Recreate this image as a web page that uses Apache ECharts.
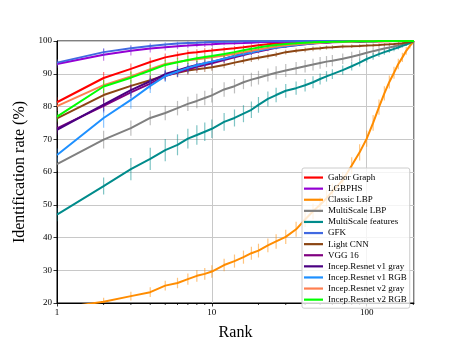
<!DOCTYPE html>
<html><head><meta charset="utf-8">
<script src="https://cdn.jsdelivr.net/npm/echarts@6/dist/echarts.min.js"></script>
<style>html,body{margin:0;padding:0;background:#fff}#c{width:461px;height:346px}</style>
</head><body><div id="c"></div>
<script>
const ranks = [1,2,3,4,5,6,7,8,9,10,12,14,16,18,20,23,26,30,35,40,45,50,55,60,70,80,90,100,110,120,130,140,150,160,170,180,190,202];
const xTickLabels = [1,10,100];
const minorTicks = [2,3,4,5,6,7,8,9,20,30,40,50,60,70,80,90,200];

const gabor = [81.3,88.7,91.5,93.6,95.0,95.7,96.3,96.6,96.9,97.1,97.5,97.8,98.1,98.4,98.7,99.0,99.2,99.3,99.4,99.5,99.6,99.6,99.7,99.7,99.8,99.8,99.8,99.9,99.9,99.9,99.9,99.9,100,100,100,100,100,100];
const gaborErr = [1.5,1.8,1.6,1.4,1.2,1.1,1.0,0.9,0.9,0.8,0.7,0.7,0.6,0.6,0.5,0.4,0.4,0.3,0.3,0.3,0.2,0.2,0.2,0.2,0.2,0.2,0.1,0.1,0.1,0.1,0.1,0.1,0,0,0,0,0,0];
const lgbphs = [93.0,95.8,97.0,97.7,98.1,98.4,98.6,98.8,98.9,99.0,99.2,99.3,99.4,99.5,99.6,99.7,99.7,99.8,99.8,99.8,99.9,99.9,99.9,99.9,99.9,100,100,100,100,100,100,100,100,100,100,100,100,100];
const lgbphsErr = [1.2,1.8,1.4,1.2,1.0,0.9,0.8,0.7,0.7,0.6,0.5,0.5,0.4,0.4,0.3,0.3,0.3,0.2,0.2,0.2,0.1,0.1,0.1,0.1,0.1,0,0,0,0,0,0,0,0,0,0,0,0,0];
const classicLbp = [18.3,20.4,22.1,23.3,25.3,26.1,27.3,28.3,28.9,29.6,31.6,32.8,34.0,35.2,36.0,37.6,38.8,40.2,42.5,45.5,48.0,50.0,52.0,54.0,57.5,62.0,66.0,70.2,75.0,79.8,84.0,87.5,90.3,93.0,95.0,97.0,98.5,100];
const classicLbpErr = [1.0,1.2,1.3,1.5,1.5,1.6,1.7,1.8,1.8,1.9,1.9,2.0,2.0,2.0,2.1,2.1,2.2,2.2,2.3,2.3,2.4,2.4,2.5,2.5,2.5,2.5,2.5,2.5,2.4,2.3,2.2,2.0,1.8,1.6,1.4,1.2,0.8,0];
const msLbp = [62.4,69.9,73.4,76.5,78.0,79.5,80.8,81.7,82.6,83.4,85.2,86.2,87.4,88.2,88.8,89.6,90.3,91.0,91.7,92.3,92.8,93.3,93.7,94.0,94.6,95.2,95.8,96.4,96.9,97.3,97.7,98.0,98.3,98.6,98.9,99.2,99.5,100];
const msLbpErr = [2.0,2.7,2.3,2.2,2.2,2.2,2.2,2.2,2.2,2.2,2.2,2.2,2.1,2.1,2.1,2.0,2.0,2.0,1.9,1.9,1.8,1.8,1.7,1.7,1.6,1.5,1.4,1.3,1.2,1.1,1.0,0.9,0.8,0.7,0.6,0.5,0.4,0];
const msFeat = [47.0,55.7,60.9,64.0,66.7,68.3,70.2,71.3,72.3,73.2,75.3,76.5,77.8,79.0,80.5,82.3,83.5,84.8,85.6,86.5,87.4,88.4,89.2,89.9,91.1,92.3,93.4,94.5,95.3,96.0,96.6,97.1,97.6,98.0,98.5,98.9,99.4,100];
const msFeatErr = [2.0,2.6,3.4,3.4,3.4,3.2,3.0,3.0,2.8,2.8,2.7,2.6,2.6,2.5,2.4,2.3,2.2,2.1,2.0,1.9,1.8,1.7,1.6,1.5,1.4,1.3,1.2,1.1,1.0,0.9,0.8,0.7,0.7,0.6,0.5,0.4,0.3,0];
const gfk = [93.4,96.6,97.8,98.5,98.9,99.2,99.4,99.5,99.6,99.7,99.8,99.8,99.9,99.9,99.9,99.9,100,100,100,100,100,100,100,100,100,100,100,100,100,100,100,100,100,100,100,100,100,100];
const gfkErr = [1.0,1.2,1.0,0.8,0.7,0.6,0.5,0.5,0.4,0.4,0.3,0.3,0.2,0.2,0.2,0.1,0,0,0,0,0,0,0,0,0,0,0,0,0,0,0,0,0,0,0,0,0,0];
const lightCnn = [76.4,83.5,86.3,88.0,89.5,90.3,91.0,91.4,91.7,92.0,92.7,93.4,94.0,94.5,94.9,95.4,95.9,96.6,97.0,97.3,97.6,97.8,98.0,98.1,98.3,98.4,98.5,98.6,98.7,98.8,98.9,99.0,99.1,99.2,99.3,99.5,99.7,100];
const lightCnnErr = [1.5,2.0,1.8,1.6,1.5,1.4,1.3,1.2,1.2,1.1,1.0,1.0,0.9,0.9,0.8,0.8,0.8,0.7,0.7,0.7,0.7,0.6,0.6,0.6,0.6,0.5,0.5,0.5,0.5,0.5,0.4,0.4,0.4,0.4,0.3,0.3,0.2,0];
const vgg16 = [73.3,80.2,84.3,87.0,89.3,90.4,91.3,92.1,92.7,93.2,94.2,95.0,95.7,96.3,96.8,97.4,97.9,98.3,98.7,99.0,99.2,99.4,99.5,99.6,99.7,99.8,99.8,99.9,99.9,99.9,100,100,100,100,100,100,100,100];
const vgg16Err = [1.5,2.0,1.8,1.7,1.5,1.4,1.3,1.2,1.1,1.0,0.9,0.8,0.8,0.7,0.6,0.5,0.5,0.4,0.3,0.3,0.3,0.2,0.2,0.2,0.1,0.1,0.1,0.1,0.1,0.1,0,0,0,0,0,0,0,0];
const v1Gray = [72.9,80.6,85.0,87.7,89.9,91.0,92.0,92.7,93.2,93.6,94.6,95.4,96.1,96.6,97.1,97.7,98.1,98.5,98.9,99.2,99.4,99.5,99.6,99.7,99.8,99.8,99.9,99.9,99.9,100,100,100,100,100,100,100,100,100];
const v1GrayErr = [1.5,2.0,1.8,1.7,1.5,1.4,1.3,1.2,1.1,1.0,0.9,0.8,0.8,0.7,0.6,0.5,0.5,0.4,0.3,0.3,0.3,0.2,0.2,0.2,0.1,0.1,0.1,0.1,0.1,0,0,0,0,0,0,0,0,0];
const v1Rgb = [65.2,76.5,82.0,86.3,89.3,90.7,91.8,92.6,93.2,93.7,94.6,95.4,96.0,96.5,97.0,97.6,98.0,98.4,98.8,99.1,99.3,99.5,99.6,99.7,99.8,99.8,99.9,99.9,99.9,100,100,100,100,100,100,100,100,100];
const v1RgbErr = [2.0,3.0,2.7,2.2,1.8,1.6,1.4,1.3,1.2,1.1,1.0,0.9,0.8,0.7,0.6,0.5,0.5,0.4,0.3,0.3,0.3,0.2,0.2,0.2,0.1,0.1,0.1,0.1,0.1,0,0,0,0,0,0,0,0,0];
const v2Gray = [80.1,86.5,89.2,91.4,93.0,93.6,94.1,94.4,94.7,95.0,95.6,96.1,96.6,97.0,97.4,97.9,98.3,98.7,99.0,99.2,99.4,99.5,99.6,99.7,99.8,99.8,99.9,99.9,99.9,99.9,100,100,100,100,100,100,100,100];
const v2GrayErr = [1.5,1.8,1.6,1.5,1.3,1.2,1.1,1.0,1.0,0.9,0.8,0.8,0.7,0.7,0.6,0.5,0.5,0.4,0.4,0.3,0.3,0.3,0.2,0.2,0.2,0.1,0.1,0.1,0.1,0.1,0,0,0,0,0,0,0,0];
const v2Rgb = [76.9,86.1,88.8,91.0,92.7,93.5,94.2,94.7,95.1,95.4,96.0,96.6,97.2,97.6,98.0,98.5,98.8,99.1,99.3,99.5,99.6,99.7,99.7,99.8,99.8,99.9,99.9,99.9,99.9,100,100,100,100,100,100,100,100,100];
const v2RgbErr = [1.5,2.0,1.8,1.6,1.4,1.3,1.2,1.1,1.0,1.0,0.9,0.8,0.7,0.7,0.6,0.5,0.5,0.4,0.4,0.3,0.3,0.3,0.2,0.2,0.2,0.1,0.1,0.1,0.1,0,0,0,0,0,0,0,0,0];

const seriesDefs = [
  ['Gabor Graph', gabor, gaborErr, '#ff0000'],
  ['LGBPHS', lgbphs, lgbphsErr, '#9400d3'],
  ['Classic LBP', classicLbp, classicLbpErr, '#ff8c00'],
  ['MultiScale LBP', msLbp, msLbpErr, '#808080'],
  ['MultiScale features', msFeat, msFeatErr, '#008b8b'],
  ['GFK', gfk, gfkErr, '#4169e1'],
  ['Light CNN', lightCnn, lightCnnErr, '#8b4513'],
  ['VGG 16', vgg16, vgg16Err, '#800080'],
  ['Incep.Resnet v1 gray', v1Gray, v1GrayErr, '#4b0082'],
  ['Incep.Resnet v1 RGB', v1Rgb, v1RgbErr, '#1e90ff'],
  ['Incep.Resnet v2 gray', v2Gray, v2GrayErr, '#ff7f50'],
  ['Incep.Resnet v2 RGB', v2Rgb, v2RgbErr, '#00ff00']
];

const FONT = 'Liberation Serif';
const series = [];
seriesDefs.forEach(function (d, k) {
  const name = d[0], vals = d[1], errs = d[2], color = d[3];
  series.push({
    type: 'custom', name: name + ' err', silent: true, clip: true, z: 2 + k * 2,
    data: ranks.map(function (r, i) { return [r, vals[i], errs[i]]; }),
    encode: { x: 0, y: 1 },
    renderItem: function (params, api) {
      const x = api.value(0), y = api.value(1), e = api.value(2);
      if (!e) return null;
      const p1 = api.coord([x, y - e]), p2 = api.coord([x, y + e]);
      return { type: 'line', shape: { x1: p1[0], y1: p1[1], x2: p2[0], y2: p2[1] },
        style: { stroke: color, opacity: 0.5, lineWidth: 1.2 } };
    }
  });
  series.push({
    type: 'line', name: name, z: 3 + k * 2, clip: true,
    data: ranks.map(function (r, i) { return [r, vals[i]]; }),
    showSymbol: false, symbol: 'none',
    lineStyle: { color: color, width: 2 }, itemStyle: { color: color },
    emphasis: { disabled: true }, animation: false
  });
});

series.push({
  type: 'custom', silent: true, clip: false, z: 40,
  data: minorTicks.map(function (r) { return [r, 20]; }),
  encode: { x: 0, y: 1 },
  renderItem: function (params, api) {
    const p = api.coord([api.value(0), 20]);
    return { type: 'line', shape: { x1: p[0], y1: p[1], x2: p[0], y2: p[1] + 2 },
      style: { stroke: '#000', lineWidth: 0.8 } };
  }
});

const chart = echarts.init(document.getElementById('c'), null, { renderer: 'canvas' });
chart.setOption({
  animation: false,
  backgroundColor: '#fff',
  grid: { left: 57, right: 47, top: 41, bottom: 38, show: true, borderColor: '#000', borderWidth: 1, backgroundColor: 'transparent' },
  xAxis: {
    type: 'log', logBase: 10, min: 1, max: 202,
    name: 'Rank', nameLocation: 'middle', nameGap: 22,
    nameTextStyle: { fontFamily: FONT, fontSize: 16, color: '#000' },
    axisLine: { show: true, lineStyle: { color: '#000', width: 1 } },
    axisTick: { show: true, length: 3.5, inside: false, lineStyle: { color: '#000', width: 0.8 } },
    axisLabel: { fontFamily: FONT, fontSize: 9, color: '#000', margin: 5, showMaxLabel: false,
      formatter: function (v) { return xTickLabels.indexOf(Math.round(v)) >= 0 && Math.abs(v - Math.round(v)) < 1e-6 ? String(Math.round(v)) : ''; } },
    splitLine: { show: true, lineStyle: { color: '#c8c8c8', width: 1 } }
  },
  yAxis: {
    type: 'value', min: 20, max: 100, interval: 10,
    name: 'Identification rate (%)', nameLocation: 'middle', nameGap: 20,
    nameTextStyle: { fontFamily: FONT, fontSize: 16, color: '#000' },
    axisLine: { show: true, lineStyle: { color: '#000', width: 1 } },
    axisTick: { show: true, length: 3.5, lineStyle: { color: '#000', width: 0.8 } },
    axisLabel: { fontFamily: FONT, fontSize: 9, color: '#000', margin: 5 },
    splitLine: { show: true, lineStyle: { color: '#c8c8c8', width: 1 } }
  },
  legend: {
    data: seriesDefs.map(function (d) { return d[0]; }),
    orient: 'vertical', left: 302, top: 168,
    icon: 'rect', itemWidth: 19, itemHeight: 2.2, itemGap: 0,
    padding: [4, 3, 3, 2],
    backgroundColor: 'rgba(255,255,255,0.8)', borderColor: '#cccccc', borderWidth: 1, borderRadius: 2,
    textStyle: { fontFamily: FONT, fontSize: 9, color: '#000', lineHeight: 11.1, padding: [0, 0, 0, 0] },
    itemStyle: { borderWidth: 0 }, z: 60, selectedMode: false
  },
  series: series
});
</script></body></html>
